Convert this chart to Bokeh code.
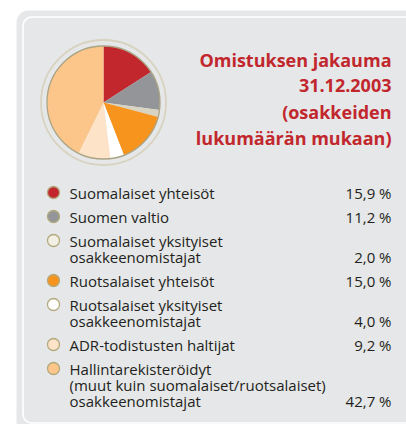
import numpy as np
from bokeh.plotting import figure
from bokeh.models import Range1d, ColumnDataSource
from bokeh.core.properties import value
from bokeh.embed import file_html
from bokeh.resources import INLINE

# ---- data ----
categories = [
    "Suomalaiset yhteisöt",
    "Suomen valtio",
    "Suomalaiset yksityiset\nosakkeenomistajat",
    "Ruotsalaiset yhteisöt",
    "Ruotsalaiset yksityiset\nosakkeenomistajat",
    "ADR-todistusten haltijat",
    "Hallintarekisteröidyt\n(muut kuin suomalaiset/ruotsalaiset)\nosakkeenomistajat",
]
shares = [15.9, 11.2, 2.0, 15.0, 4.0, 9.2, 42.7]
title_lines = ["Omistuksen jakauma", "31.12.2003", "(osakkeiden", "lukumäärän mukaan)"]

pie_colors = ["#c1272d", "#939598", "#d9d4c1", "#f7941d", "#ffffff", "#fde3c7", "#fcc589"]
marker_colors = ["#c1272d", "#939598", "#f2f0e4", "#f7941d", "#ffffff", "#fde3c7", "#fcc589"]

# ---- figure in page-pixel coordinates ----
W, H = 406, 424
p = figure(width=W, height=H, output_backend="svg", toolbar_location=None,
           x_range=Range1d(0, W), y_range=Range1d(H, 0),
           min_border=0, outline_line_color=None,
           background_fill_color="white", border_fill_color="white")
p.axis.visible = False
p.grid.visible = False


def rounded(x0, y0, x1, y1, r, n=16):
    xs, ys = [], []
    corners = [(x0 + r, y0 + r, np.pi, 1.5 * np.pi),
               (x1 - r, y0 + r, 1.5 * np.pi, 2 * np.pi),
               (x1 - r, y1 - r, 0, 0.5 * np.pi),
               (x0 + r, y1 - r, 0.5 * np.pi, np.pi)]
    for cx, cy, a0, a1 in corners:
        t = np.linspace(a0, a1, n)
        xs.extend(cx + r * np.cos(t))
        ys.extend(cy + r * np.sin(t))
    xs.append(xs[0]); ys.append(ys[0])
    return xs, ys


gx, gy = rounded(16, 10, 440, 440, 12)
p.patch(gx, gy, fill_color="#e6e7e8", line_color=None)
wx, wy = rounded(22.5, 16.5, 434, 422.5, 9)
p.line(wx, wy, line_color="white", line_width=1.6)

# ---- pie ----
cx, cy, R = 103, 102, 56.5
frac = np.array(shares) / sum(shares)
cum = np.concatenate([[0], np.cumsum(frac)])
start = np.pi / 2 - cum[:-1] * 2 * np.pi
end = np.pi / 2 - cum[1:] * 2 * np.pi
src = ColumnDataSource(dict(start=start, end=end, color=pie_colors))
p.wedge(x=cx, y=cy, radius=R, radius_units="screen", start_angle="start",
        end_angle="end", direction="clock", fill_color="color",
        line_color=None, source=src)
p.circle(x=[cx], y=[cy], radius=R, radius_units="screen", fill_color=None,
         line_color="#aaa484", line_width=1.3)
p.circle(x=[cx], y=[cy], radius=62.5, radius_units="screen", fill_color=None,
         line_color="#d8d3c0", line_width=1.8)

# ---- title ----
ty = [59 + i * 26.3 for i in range(len(title_lines))]
p.text(x=[391] * len(title_lines), y=ty, text=title_lines,
       text_font=value("Open Sans"), text_font_style="bold",
       text_font_size="18px", text_color="#c1272d",
       text_align="right", text_baseline="middle")

# ---- legend ----
line_h, gap = 16, 24
y = 192
mx, my, lx, ly, lt, vx, vy, vt = [], [], [], [], [], [], [], []
for cat, v in zip(categories, shares):
    lines = cat.split("\n")
    mx.append(53); my.append(y)
    for j, ln in enumerate(lines):
        lx.append(69); ly.append(y + j * line_h); lt.append(ln)
    last = y + (len(lines) - 1) * line_h
    vx.append(391); vy.append(last); vt.append(f"{v:.1f}".replace(".", ",") + " %")
    y = last + gap

p.scatter(x=mx, y=my, size=12, fill_color=marker_colors, line_color="#b3a97e",
          line_width=1.3)
p.text(x=lx, y=ly, text=lt, text_font=value("Open Sans"), text_font_size="15px",
       text_color="#231f20", text_baseline="middle")
p.text(x=vx, y=vy, text=vt, text_font=value("Open Sans"), text_font_size="15px",
       text_color="#231f20", text_baseline="middle", text_align="right")

open("out.html", "w").write(file_html(p, INLINE))
